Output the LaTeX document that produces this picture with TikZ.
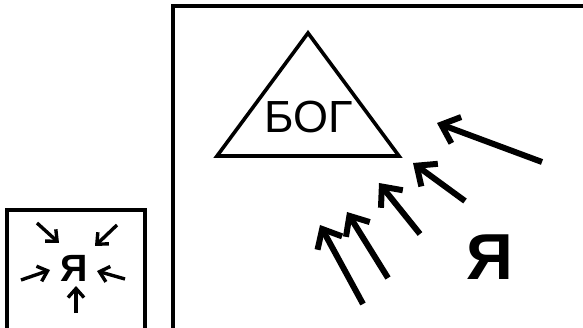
\documentclass[tikz,border=0pt]{standalone}
\usepackage{fontspec}
\newfontfamily\arialfont{Liberation Sans}
\usetikzlibrary{arrows.meta}

\begin{document}
\begin{tikzpicture}[
    x=1pt, y=-1pt,
    frame/.style={draw, line width=3.6pt},
    bigarrow/.style={-{Straight Barb[length=16pt, width=28pt]}, line width=6pt},
    smallarrow/.style={-{Straight Barb[length=9pt, width=16pt]}, line width=3.4pt},
    god_style/.style={font=\arialfont\fontsize{45}{45}\selectfont, anchor=base, inner sep=0pt},
    me_style/.style={font=\arialfont\bfseries\fontsize{#1}{#1}\selectfont, anchor=base, inner sep=0pt}
]
\useasboundingbox (0,0) rectangle (583,328);
\clip (0,0) rectangle (583,328);

% frames
\draw[frame] (173,6) rectangle (600,340);
\draw[frame] (7,210) rectangle (145,340);

% triangle with the name
\draw[line width=3.6pt, line join=miter] (308,33) -- (217,156) -- (399,156) -- cycle;
\node[god_style] (god) at (309,133) {БОГ};

% big self
\node[me_style=65] (me) at (490,280) {Я};
\draw[bigarrow] (542,162) -- (437,123);
\draw[bigarrow] (465,201) -- (413,163);
\draw[bigarrow] (420,234) -- (379,183);
\draw[bigarrow] (388,278) -- (347,212);
\draw[bigarrow] (363,304) -- (320,225);

% small self
\node[me_style=38] (self) at (74.5,282) {Я};
\draw[smallarrow] (37,223) -- (59,243);
\draw[smallarrow] (117,225) -- (95,246);
\draw[smallarrow] (21,280) -- (50,270);
\draw[smallarrow] (125,279) -- (97,271);
\draw[smallarrow] (76,313) -- (76,286);

\end{tikzpicture}
\end{document}
